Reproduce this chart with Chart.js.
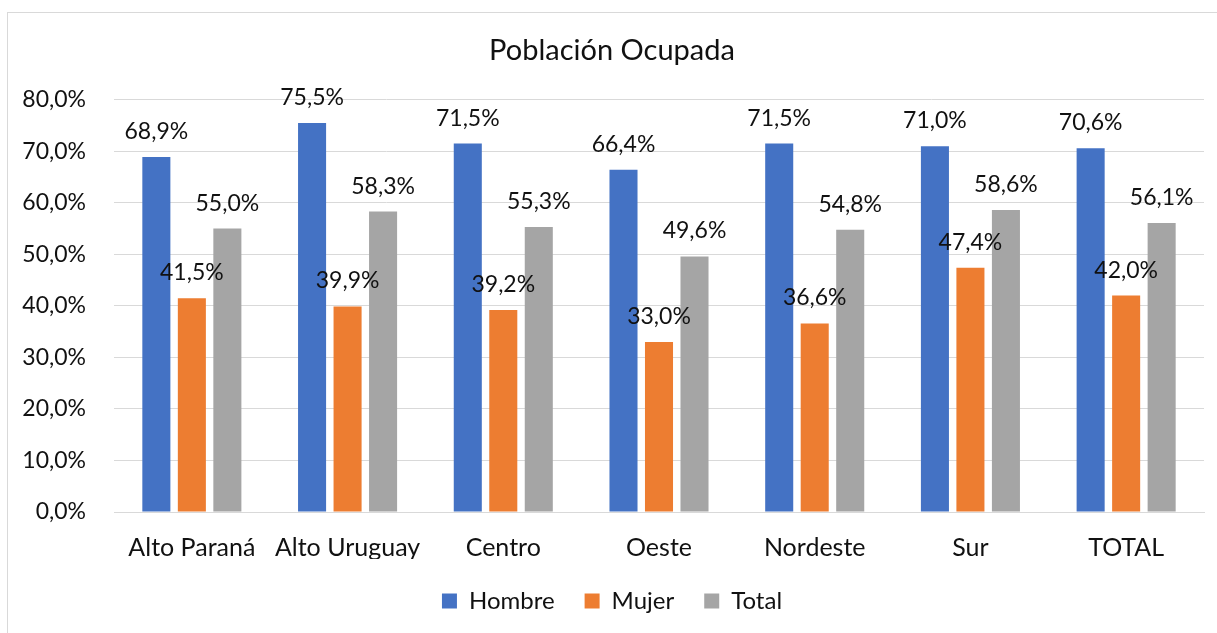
<!DOCTYPE html>
<html>
<head>
<meta charset="utf-8">
<script src="https://cdn.jsdelivr.net/npm/chart.js@4.4.1/dist/chart.umd.min.js"></script>
<style>
    html, body { margin: 0; padding: 0; background: #fff; overflow: hidden; }
    #frame { position: absolute; left: 7px; top: 12px; width: 1400px; height: 800px; border: 1px solid #d9d9d9; }
    #wrap { position: absolute; left: 0; top: 0; width: 1217px; height: 660px; }
</style>
</head>
<body>
<div id="frame"></div>
<div id="wrap"><canvas id="chart"></canvas></div>
<script>
    // Datos
    const regiones = ['Alto Paraná', 'Alto Uruguay', 'Centro', 'Oeste', 'Nordeste', 'Sur', 'TOTAL'];
    const hombre = [68.9, 75.5, 71.5, 66.4, 71.5, 71.0, 70.6];
    const mujer = [41.5, 39.9, 39.2, 33.0, 36.6, 47.4, 42.0];
    const total = [55.0, 58.3, 55.3, 49.6, 54.8, 58.6, 56.1];
    const yTicks = [0, 10, 20, 30, 40, 50, 60, 70, 80];

    const FONT = 'Lato, "Open Sans", sans-serif';

    const pct = (v) => v.toFixed(1).replace('.', ',') + '%';

    // etiquetas de datos encima de cada barra
    const valueLabels = {
        id: 'valueLabels',
        afterDatasetsDraw(chart) {
            const ctx = chart.ctx;
            ctx.save();
            ctx.font = '23px ' + FONT;
            ctx.fillStyle = '#111';
            ctx.textAlign = 'center';
            ctx.textBaseline = 'alphabetic';
            chart.data.datasets.forEach((ds, i) => {
                chart.getDatasetMeta(i).data.forEach((bar, j) => {
                    ctx.fillText(pct(ds.data[j]), bar.x, bar.y - 18);
                });
            });
            ctx.restore();
        }
    };

    new Chart(document.getElementById('chart'), {
        type: 'bar',
        data: {
            labels: regiones,
            datasets: [
                { label: 'Hombre', data: hombre, backgroundColor: '#4472C4' },
                { label: 'Mujer', data: mujer, backgroundColor: '#ED7D31' },
                { label: 'Total', data: total, backgroundColor: '#A5A5A5' }
            ]
        },
        options: {
            responsive: true,
            maintainAspectRatio: false,
            animation: false,
            categoryPercentage: 0.684,
            barPercentage: 0.79,
            layout: { padding: { left: 20, right: 13, top: 0, bottom: 37 } },
            plugins: {
                title: {
                    display: true,
                    text: 'Población Ocupada',
                    color: '#111',
                    font: { family: FONT, size: 29, weight: 'normal' },
                    padding: { top: 33, bottom: 32 }
                },
                legend: {
                    position: 'bottom',
                    labels: {
                        color: '#111',
                        font: { family: FONT, size: 24 },
                        boxWidth: 15,
                        boxHeight: 15,
                        padding: 30
                    }
                },
                tooltip: { enabled: false }
            },
            scales: {
                x: {
                    grid: { display: false },
                    border: { display: true, color: '#d9d9d9' },
                    ticks: { color: '#111', font: { family: FONT, size: 25 }, padding: 13, maxRotation: 0 },
                    afterFit: (scale) => { scale.height = 47; }
                },
                y: {
                    min: 0,
                    max: 80,
                    afterBuildTicks: (scale) => { scale.ticks = yTicks.map(v => ({ value: v })); },
                    grid: { color: '#d9d9d9', drawTicks: false },
                    border: { display: false },
                    ticks: {
                        color: '#111',
                        font: { family: FONT, size: 23 },
                        padding: 28,
                        callback: (v) => pct(v)
                    },
                    afterFit: (scale) => { scale.width = 94; }
                }
            }
        },
        plugins: [valueLabels]
    });
</script>
</body>
</html>
